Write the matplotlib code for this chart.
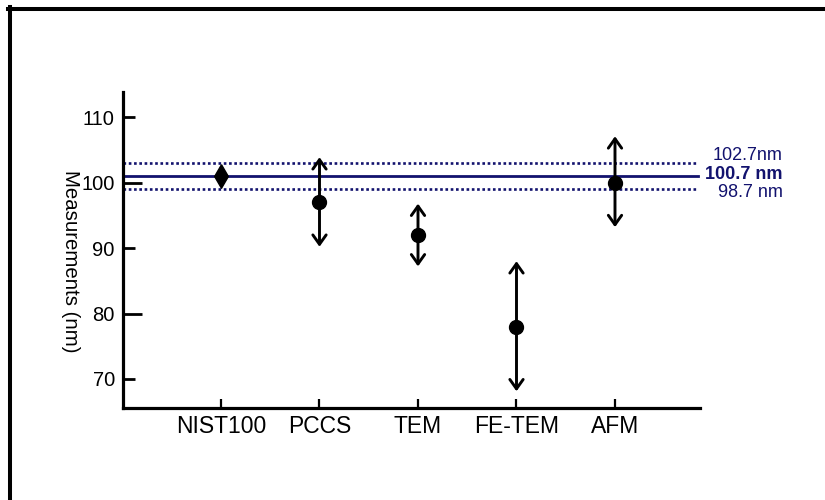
import matplotlib
matplotlib.use("Agg")
import matplotlib.pyplot as plt
from matplotlib.lines import Line2D

plt.rcParams['font.family'] = ['Liberation Sans', 'DejaVu Sans']

methods = ['NIST100', 'PCCS', 'TEM', 'FE-TEM', 'AFM']
means = [101.0, 97.0, 92.0, 78.0, 100.0]
err_low = [0.0, 6.8, 4.8, 9.9, 6.8]
err_high = [0.0, 6.9, 4.8, 10.0, 7.1]

band_levels = [103.0, 101.0, 99.0]
band_labels = ['102.7nm', '100.7 nm', '98.7 nm']

navy = '#12126e'

fig = plt.figure(figsize=(8.25, 5), dpi=100)
ax = fig.add_axes([122.5 / 825, 92 / 500, (700 - 122.5) / 825, 316 / 500])

xs = list(range(1, len(methods) + 1))
x_right = 5.84

# reference band
ax.plot([0, x_right], [band_levels[0]] * 2, color=navy, lw=1.9, ls=(0, (1, 1)), clip_on=False)
ax.plot([0, x_right], [band_levels[1]] * 2, color=navy, lw=2.0, clip_on=False)
ax.plot([0, x_right], [band_levels[2]] * 2, color=navy, lw=1.9, ls=(0, (1, 1)), clip_on=False)

# right labels
offsets = [1.1, 0.2, -0.5]
for lev, lab, off in zip(band_levels, band_labels, offsets):
    ax.text(6.70, lev + off, lab, color=navy, fontsize=13, ha='right', va='center',
            fontweight='bold' if lab == '100.7 nm' else 'normal', clip_on=False)

# error arrows
for x, m, lo, hi in zip(xs, means, err_low, err_high):
    if lo == 0 and hi == 0:
        continue
    ax.annotate('', xy=(x, m + hi), xytext=(x, m - lo),
                arrowprops=dict(arrowstyle='<->,head_length=0.45,head_width=0.32',
                                color='black', lw=2.1, shrinkA=0, shrinkB=0,
                                mutation_scale=15))

# markers
diamond = [(0, 1), (0.58, 0), (0, -1), (-0.58, 0), (0, 1)]
ax.plot(xs[0], means[0], marker=diamond, color='black', ms=17, ls='none', zorder=5)
ax.plot(xs[1:], means[1:], marker='o', color='black', ms=10, ls='none', zorder=5)

ax.set_xlim(0, 5.863)
ax.set_ylim(65.55, 113.87)

for s in ['top', 'right']:
    ax.spines[s].set_visible(False)
for s in ['left', 'bottom']:
    ax.spines[s].set_linewidth(2.3)

ax.set_xticks(xs)
ax.set_xticklabels(methods, fontsize=16.5)
ax.tick_params(axis='x', direction='in', length=6.5, width=1.6, pad=5)

yt = [70, 80, 90, 100, 110]
ax.set_yticks(yt)
ax.set_yticklabels([str(v) for v in yt], fontsize=14.5)
ax.tick_params(axis='y', direction='in', length=8.6, width=2.0, pad=5.5)
for v, tick in zip(yt, ax.yaxis.get_major_ticks()):
    if v in (80, 100):
        tick.tick1line.set_markersize(13.7)

fig.text(70 / 825, 1 - 261.5 / 500, 'Measurements (nm)', rotation=-90,
         fontsize=14.7, ha='center', va='center')

# frame on top and left
fig.add_artist(Line2D([8 / 825, 1], [1 - 8.5 / 500] * 2, transform=fig.transFigure,
                      color='black', lw=2.9))
fig.add_artist(Line2D([10 / 825] * 2, [0, 1 - 7 / 500], transform=fig.transFigure,
                      color='black', lw=2.9))

fig.savefig('out.png', dpi=100)
